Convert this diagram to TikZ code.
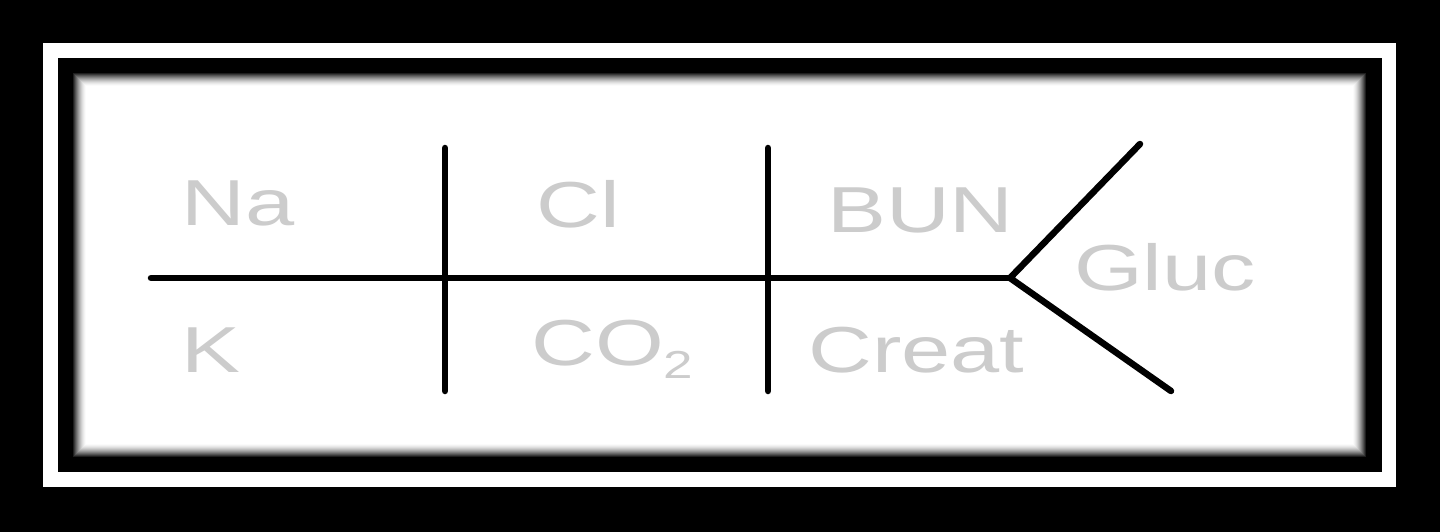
\documentclass[tikz,border=0pt]{standalone}
\usepackage{fontspec}
\setmainfont{Liberation Sans}
\definecolor{lblgray}{RGB}{204,204,204}
\begin{document}
\begin{tikzpicture}[x=1pt,y=-1pt,
  lbl/.style={anchor=base west, inner sep=0pt, text=lblgray, font=\fontsize{65}{70}\selectfont},
  bone/.style={line width=6.5pt, line cap=round, draw=black}]
\useasboundingbox (0,0) rectangle (1440,532);
% frame
\fill[black] (0,0) rectangle (1440,532);
\fill[white] (43,43) rectangle (1396,487);
\fill[black] (58,58) rectangle (1382,472);
\fill[white] (72,72) rectangle (1367,458);
% inner shadow
\foreach \i in {0,...,14} {
  \pgfmathsetmacro\c{100*(1-\i/14)^1.6}
  \draw[line width=1.1pt, draw=black!\c] (72.5+\i,72.5+\i) rectangle (1366.5-\i,457.5-\i);
}
% skeleton coordinates
\coordinate (spineL) at (151,278);
\coordinate (fork) at (1010,278);
\coordinate (v1t) at (445,148);
\coordinate (v1b) at (445,391);
\coordinate (v2t) at (768,148);
\coordinate (v2b) at (768,391);
\coordinate (ft) at (1140,144);
\coordinate (fb) at (1171,391);
\draw[bone] (spineL) -- (fork);
\draw[bone] (v1t) -- (v1b);
\draw[bone] (v2t) -- (v2b);
\draw[bone, line join=miter] (ft) -- (fork) -- (fb);
% labels
\node[lbl] (na) at (181,225) {\scalebox{1.36}[1]{Na}};
\node[lbl] (k) at (181,372) {\scalebox{1.36}[1]{K}};
\node[lbl] (cl) at (536,227) {\scalebox{1.36}[1]{Cl}};
\node[lbl] (co2) at (531,365) {\scalebox{1.36}[1]{CO\raisebox{-13pt}{\fontsize{39}{39}\selectfont 2}}};
\node[lbl] (bun) at (827,232) {\scalebox{1.36}[1]{BUN}};
\node[lbl] (creat) at (808,372) {\scalebox{1.36}[1]{Creat}};
\node[lbl] (gluc) at (1074,290) {\scalebox{1.36}[1]{Gluc}};
\end{tikzpicture}
\end{document}
